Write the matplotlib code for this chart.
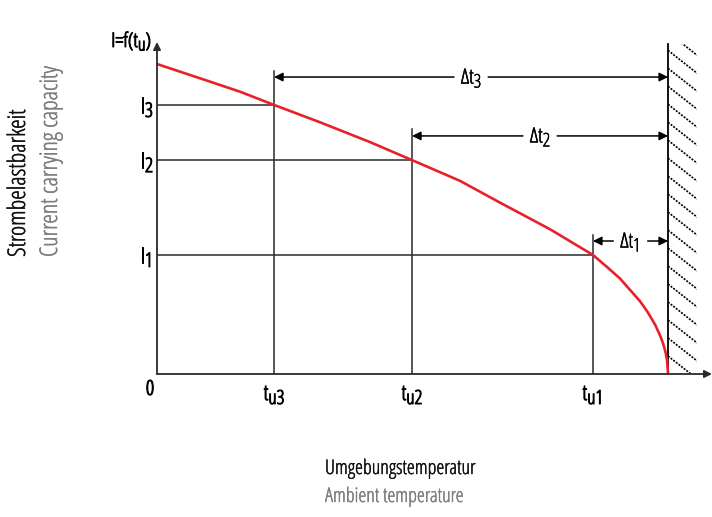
import numpy as np
import matplotlib as mpl
mpl.use("Agg")
import matplotlib.pyplot as plt
import matplotlib.patheffects as pe
from matplotlib.patches import Rectangle
from matplotlib.transforms import ScaledTranslation

plt.rcParams['font.family'] = ['Open Sans', 'DejaVu Sans']
plt.rcParams['font.stretch'] = 'condensed'

# Kurve I = f(t_u) (t: 0..100 = Grenztemperatur, I: 0..100)
curve_t = [0, 8.4, 16.2, 22.9, 31.9, 41.7, 49.9, 59.3, 67.1, 76.9, 85.3,
           88.0, 90.6, 94.5, 96.0, 97.5, 98.5, 99.0, 99.5, 99.8, 100]
curve_i = [100, 95.4, 91.1, 86.8, 81.2, 74.8, 69.0, 62.3, 55.3, 46.7, 38.4,
           34.6, 30.8, 23.5, 20.0, 15.8, 12.2, 10.0, 7.1, 4.5, 0]

t_limit = 100
t_points = [22.9, 49.9, 85.3]            # t_u3, t_u2, t_u1
i_points = [86.8, 69.0, 38.4]            # I3, I2, I1
point_names = ['3', '2', '1']
delta_levels = [95.8, 76.8, 42.9]        # Höhe der Δt-Pfeile

red = '#e8202a'
dark = '#2a2a2a'
DPI = 100

fig = plt.figure(figsize=(7.12, 5.17), dpi=DPI)
ax = fig.add_axes([157 / 712, 1 - 374 / 517, 555 / 712, 332 / 517])
ax.set_xlim(0, 108.6)
ax.set_ylim(0, 107.1)
ax.axis('off')
renderer = fig.canvas.get_renderer()


def stroke(lw, col='black'):
    # die schmale Schrift gibt es nur dünn -> etwas nachziehen
    return [pe.withStroke(linewidth=lw, foreground=col)]


def rich(x, y, parts, ha='left', dx=0, dy=0, sw=0.7, **kw):
    """Text aus Stücken (text, größe, versatz_px) auf gemeinsamer Grundlinie."""
    items = []
    for s, fs, off in parts:
        t = ax.text(x, y, s, fontsize=fs, ha='left', va='baseline',
                    clip_on=False, path_effects=stroke(sw), **kw)
        items.append((t, t.get_window_extent(renderer).width, off))
    total = sum(w for _, w, _ in items)
    pos = {'left': 0, 'center': -total / 2, 'right': -total}[ha] + dx
    for t, w, off in items:
        t.set_transform(ax.transData + ScaledTranslation(
            pos / DPI, (dy + off) / DPI, fig.dpi_scale_trans))
        pos += w
    return total


# Achsen mit Pfeilen
ax.annotate('', xy=(108.6, 0), xytext=(0, 0), annotation_clip=False,
            arrowprops=dict(arrowstyle='-|>', color=dark, lw=1.3,
                            mutation_scale=11, shrinkA=0, shrinkB=0))
ax.annotate('', xy=(0, 107.1), xytext=(0, 0), annotation_clip=False,
            arrowprops=dict(arrowstyle='-|>', color=dark, lw=1.3,
                            mutation_scale=11, shrinkA=0, shrinkB=0))

# schraffierte Wand
wall_w = 5.7
wall_top = 106.5
ax.plot([t_limit, t_limit], [0, wall_top], color='black', lw=1.3)
clip = Rectangle((t_limit, 0), wall_w, wall_top, transform=ax.transData,
                 facecolor='none', edgecolor='none')
ax.add_patch(clip)
for y0 in np.arange(0, wall_top + 10, 5.8):
    ln, = ax.plot([t_limit, t_limit + wall_w], [y0, y0 - 7.4],
                  color='black', lw=1.2, ls=(0, (1.2, 0.8)))
    ln.set_clip_path(clip)

px = 555 / 108.6          # Pixel je Dateneinheit (x)
arrow_kw = dict(arrowstyle='-|>', color='black', lw=1.1,
                mutation_scale=13, shrinkA=0, shrinkB=0)

# Hilfslinien und Δt-Pfeile
for t, i, name, yd in zip(t_points, i_points, point_names, delta_levels):
    ax.plot([0, t], [i, i], color=dark, lw=1.1)
    ax.plot([t, t], [0, yd + 2.1], color=dark, lw=1.1)
    mid = (t + t_limit) / 2
    w = rich(mid, yd, [('Δt', 15, 0), (name, 13.5, -4)], ha='center',
             dy=-6.5, sw=0.35, color='black')
    gap = (w / 2 + 7) / px
    ax.annotate('', xy=(t, yd), xytext=(mid - gap, yd), arrowprops=arrow_kw)
    ax.annotate('', xy=(t_limit, yd), xytext=(mid + gap, yd),
                arrowprops=arrow_kw)
    rich(0, i, [('I', 16.5, 0), (name, 14.5, -4)], ha='right', dx=-4,
         dy=-8, color='black')
    rich(t, 0, [('t', 15.5, 0), ('u' + name, 14, -4)], ha='center',
         dy=-26, color='black')

# Kennlinie
ax.plot(curve_t, curve_i, color=red, lw=1.9, solid_capstyle='butt')

rich(0, 0, [('0', 15, 0)], ha='center', dx=-7, dy=-21, color='black')
rich(0, 107.1, [('I=f(t', 14.5, 0), ('u', 13, -3.5), (')', 14.5, 0)],
     ha='right', dx=-6, dy=-5, color='black')

# Achsbeschriftungen
light = dict(family='Open Sans', stretch='condensed', weight='light')
fig.text(19 / 712, 1 - 257 / 517, 'Strombelastbarkeit', rotation=90,
         ha='center', va='bottom', color='#111111', fontsize=17.5,
         path_effects=stroke(0.3, '#111111'), **light)
fig.text(51 / 712, 1 - 257 / 517, 'Current carrying capacity', rotation=90,
         ha='center', va='bottom', color='#7d7d7d', fontsize=17.5,
         path_effects=stroke(0.3, '#7d7d7d'), **light)
fig.text(325 / 712, 1 - 469 / 517, 'Umgebungstemperatur', ha='left',
         va='center', color='#111111', fontsize=14.5,
         path_effects=stroke(0.3, '#111111'), **light)
fig.text(325 / 712, 1 - 497 / 517, 'Ambient temperature', ha='left',
         va='center', color='#7d7d7d', fontsize=14.5,
         path_effects=stroke(0.3, '#7d7d7d'), **light)

fig.savefig('out.png', dpi=DPI)
